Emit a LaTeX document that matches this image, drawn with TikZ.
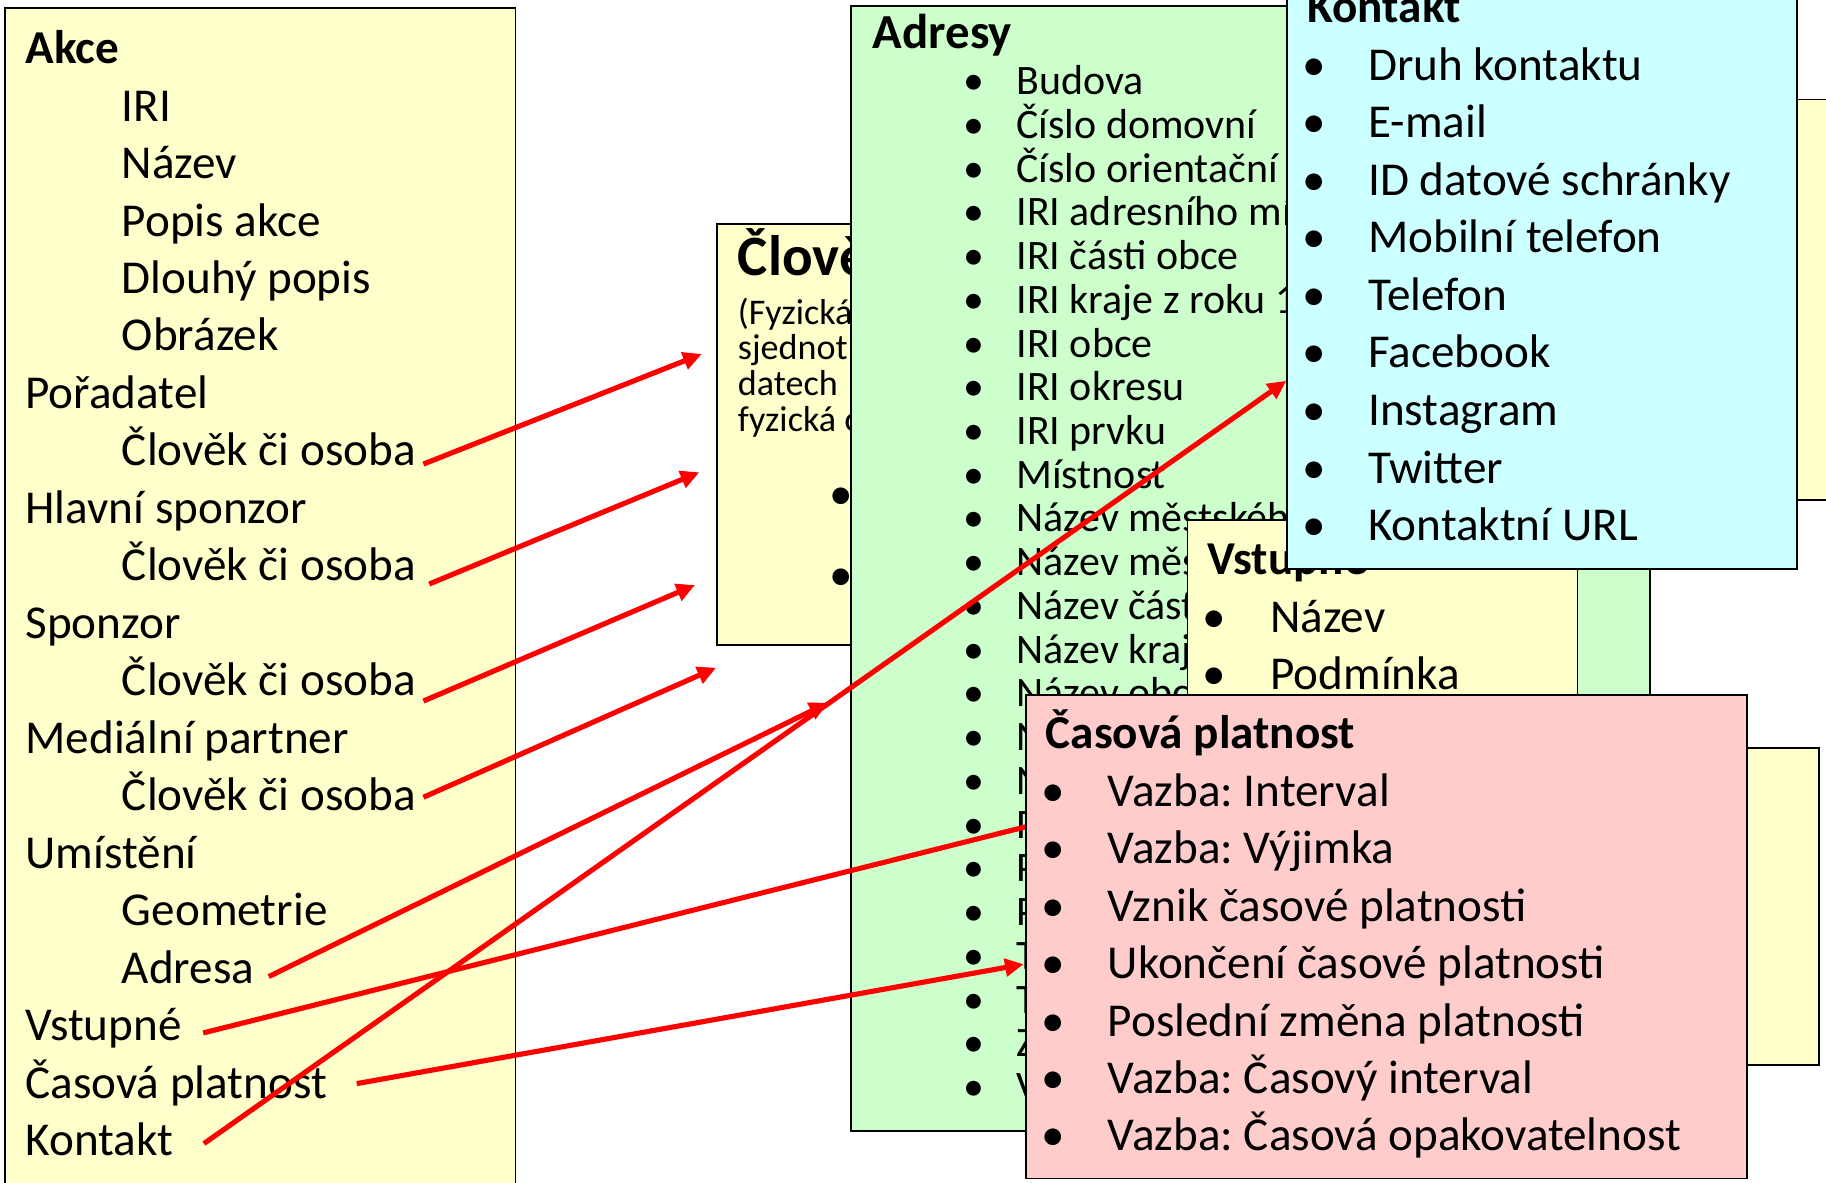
\documentclass[tikz,border=0pt]{standalone}
\usepackage{fontspec}
\setmainfont{Carlito}
\usetikzlibrary{arrows.meta}
\frenchspacing
\definecolor{akcefill}{HTML}{FFFFCC}
\definecolor{adrfill}{HTML}{CCFFCC}
\definecolor{konfill}{HTML}{CCFFFF}
\definecolor{casfill}{HTML}{FFCCCC}
\def\bitem[#1](#2:#3:#4)(#5)#6{\node[#1,anchor=base] (#5d) at (#2,#4) {\textbullet}; \node[#1] (#5) at (#3,#4) {#6};}

\begin{document}
\begin{tikzpicture}[x=0.5pt,y=-0.5pt,
		box/.style={draw=black,line width=0.75pt},
		txt/.style={anchor=base west,inner sep=0pt,font=\fontsize{20.25}{24}\selectfont},
		ttl/.style={txt,font=\fontsize{20.25}{24}\selectfont\bfseries},
		big/.style={txt,font=\fontsize{21}{25}\selectfont\bfseries},
		huge/.style={txt,font=\fontsize{24.5}{29}\selectfont\bfseries},
		adr/.style={txt,font=\fontsize{18}{21}\selectfont},
		small/.style={txt,font=\fontsize{15.5}{18}\selectfont},
		link/.style={draw=red,line width=2.2pt,-{Triangle[length=8pt,width=7.5pt]}}]
		%%%%% START %%%%%
		\useasboundingbox (0,0) rectangle (1568,1015);
		\clip (0,0) rectangle (1568,1015);
		
		% Akce
		\draw[box,fill=akcefill] (4,6.8) rectangle (442.6,1040);
		\node[ttl] (akce) at (21.5,54.6) {Akce};
		\node[txt] (iri) at (104.3,104) {IRI};
		\node[txt] (nazev) at (104.3,153.3) {Název};
		\node[txt] (popis) at (104.3,202.7) {Popis akce};
		\node[txt] (dlouhy) at (104.3,252) {Dlouhý popis};
		\node[txt] (obrazek) at (104.3,301.4) {Obrázek};
		\node[txt] (poradatel) at (21.5,350.8) {Pořadatel};
		\node[txt] (clovekA) at (104.3,400.1) {Člověk či osoba};
		\node[txt] (hlavni) at (21.5,449.5) {Hlavní sponzor};
		\node[txt] (clovekB) at (104.3,498.8) {Člověk či osoba};
		\node[txt] (sponzor) at (21.5,548.2) {Sponzor};
		\node[txt] (clovekC) at (104.3,597.6) {Člověk či osoba};
		\node[txt] (medialni) at (21.5,646.9) {Mediální partner};
		\node[txt] (clovekD) at (104.3,696.3) {Člověk či osoba};
		\node[txt] (umisteni) at (21.5,745.6) {Umístění};
		\node[txt] (geometrie) at (104.3,795) {Geometrie};
		\node[txt] (adresa) at (104.3,844.4) {Adresa};
		\node[txt] (vstupne) at (21.5,893.7) {Vstupné};
		\node[txt] (casova) at (21.5,943.1) {Časová platnost};
		\node[txt] (kontakt) at (21.5,992.4) {Kontakt};
		
		% Clovek ci osoba
		\draw[box,fill=akcefill] (615.7,192.5) rectangle (760,554);
		\node[huge] (clovT) at (633.3,236.5) {Člověk};
		\node[small] (fyz1) at (633.3,278.3) {(Fyzická};
		\node[small] (fyz2) at (633.3,309) {sjednot};
		\node[small] (fyz3) at (633.3,339.9) {datech};
		\node[small] (fyz4) at (633.3,370.2) {fyzická osoba};
		\node[txt,anchor=base] (clov1d) at (722.2,437.6) {\textbullet};
		\node[txt,anchor=base] (clov2d) at (722.2,507.1) {\textbullet};
		
		% Adresy
		\draw[box,fill=adrfill] (730.8,5.3) rectangle (1417,971.5);
		\node[big] (adrT) at (749,42) {Adresy};
		\bitem[adr](836.6:872.5:81.2)(adr1){Budova}
		\bitem[adr](836.6:872.5:118.8)(adr2){Číslo domovní}
		\bitem[adr](836.6:872.5:156.3)(adr3){Číslo orientační}
		\bitem[adr](836.6:872.5:193.9)(adr4){IRI adresního místa}
		\bitem[adr](836.6:872.5:231.4)(adr5){IRI části obce}
		\bitem[adr](836.6:872.5:269)(adr6){IRI kraje z roku 1960}
		\bitem[adr](836.6:872.5:306.6)(adr7){IRI obce}
		\bitem[adr](836.6:872.5:344.1)(adr8){IRI okresu}
		\bitem[adr](836.6:872.5:381.7)(adr9){IRI prvku}
		\bitem[adr](836.6:872.5:419.2)(adr10){Místnost}
		\bitem[adr](836.6:872.5:456.8)(adr11){Název městského obvodu}
		\bitem[adr](836.6:872.5:494.4)(adr12){Název městské části}
		\bitem[adr](836.6:872.5:531.9)(adr13){Název části obce}
		\bitem[adr](836.6:872.5:569.5)(adr14){Název kraje}
		\bitem[adr](836.6:872.5:607)(adr15){Název obce}
		\bitem[adr](836.6:872.5:644.6)(adr16){Název okresu}
		\bitem[adr](836.6:872.5:682.2)(adr17){Název ulice}
		\bitem[adr](836.6:872.5:719.7)(adr18){Patro}
		\bitem[adr](836.6:872.5:757.3)(adr19){Písmeno}
		\bitem[adr](836.6:872.5:794.8)(adr20){PSČ}
		\bitem[adr](836.6:872.5:832.4)(adr21){Text adresy}
		\bitem[adr](836.6:872.5:870)(adr22){Typ čísla domovního}
		\bitem[adr](836.6:872.5:907.5)(adr23){Země}
		\bitem[adr](836.6:872.5:945.1)(adr24){Vchod}
		
		% Vstupne
		\draw[box,fill=akcefill] (1019.7,446.7) rectangle (1354.5,800);
		\node[ttl] (vstT) at (1036.6,493) {Vstupné};
		\bitem[txt](1042.7:1090.4:543.3)(vst1){Název}
		\bitem[txt](1042.7:1090.4:591.7)(vst2){Podmínka}
		
		% Kontakt
		\draw[box,fill=akcefill] (1400,85.4) rectangle (1600,429.5);
		\draw[box,fill=konfill] (1105,-30) rectangle (1543,488.7);
		\node[ttl] (konT) at (1122.4,19.6) {Kontakt};
		\bitem[txt](1128.9:1174.5:69)(kon1){Druh kontaktu}
		\bitem[txt](1128.9:1174.5:118.4)(kon2){E-mail}
		\bitem[txt](1128.9:1174.5:167.8)(kon3){ID datové schránky}
		\bitem[txt](1128.9:1174.5:217.2)(kon4){Mobilní telefon}
		\bitem[txt](1128.9:1174.5:266.6)(kon5){Telefon}
		\bitem[txt](1128.9:1174.5:316)(kon6){Facebook}
		\bitem[txt](1128.9:1174.5:365.4)(kon7){Instagram}
		\bitem[txt](1128.9:1174.5:414.8)(kon8){Twitter}
		\bitem[txt](1128.9:1174.5:464.2)(kon9){Kontaktní URL}
		
		\draw[box,fill=akcefill] (1400,642.6) rectangle (1561.8,914.4);
		
		% sipky
		\coordinate (t1) at (602.6,304);
		\coordinate (t2) at (600.5,405.6);
		\coordinate (t3) at (596.8,502.4);
		\coordinate (t4) at (614.9,573.4);
		\coordinate (tAdr) at (711,603.5);
		\coordinate (tVst) at (1030,672.6);
		\coordinate (tCas) at (879,828);
		\coordinate (tKon) at (1104.5,327);
		\draw[link] ([shift={(6,-1.6)}]clovekA.base east) -- (t1);
		\draw[link] ([shift={(11,2.7)}]clovekB.base east) -- (t2);
		\draw[link] ([shift={(6,4.4)}]clovekC.base east) -- (t3);
		\draw[link] ([shift={(6,-11.7)}]clovekD.base east) -- (t4);
		\draw[link] ([shift={(12,-5.8)}]adresa.base east) -- (tAdr);
		\draw[link] ([shift={(18,-6.7)}]vstupne.base east) -- (tVst);
		\draw[link] ([shift={(25,-12.6)}]casova.base east) -- (tCas);
		\draw[link] ([shift={(26,-10.4)}]kontakt.base east) -- (tKon);
		
		% Casova platnost
		\draw[box,fill=casfill] (880.8,596.8) rectangle (1500,1012);
		\node[ttl] (casT) at (897.7,642.6) {Časová platnost};
		\bitem[txt](904.4:951:692.5)(cas1){Vazba: Interval}
		\bitem[txt](904.4:951:741.8)(cas2){Vazba: Výjimka}
		\bitem[txt](904.4:951:791.1)(cas3){Vznik časové platnosti}
		\bitem[txt](904.4:951:840.4)(cas4){Ukončení časové platnosti}
		\bitem[txt](904.4:951:889.7)(cas5){Poslední změna platnosti}
		\bitem[txt](904.4:951:939)(cas6){Vazba: Časový interval}
		\bitem[txt](904.4:951:988.3)(cas7){Vazba: Časová opakovatelnost}
		%%%%% END %%%%%
	\end{tikzpicture}
\end{document}
